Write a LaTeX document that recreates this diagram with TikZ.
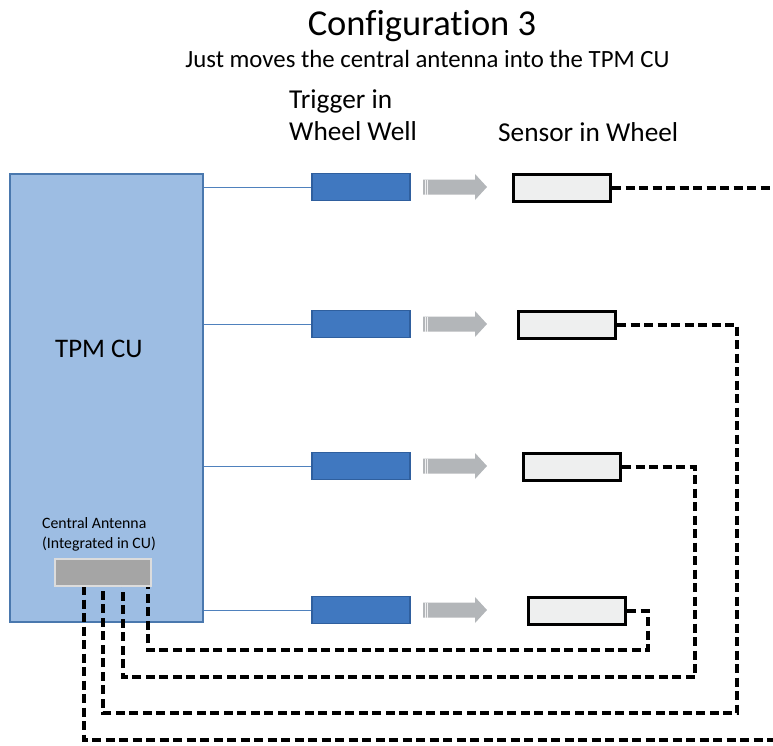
\documentclass[tikz,border=0pt]{standalone}
\usepackage{fontspec}
\setmainfont[Ligatures=NoCommon]{Carlito}
\usetikzlibrary{positioning}
\definecolor{cufill}{HTML}{9DBDE3}
\definecolor{cuedge}{HTML}{4A78AE}
\definecolor{trigfill}{HTML}{4078C0}
\definecolor{trigedge}{HTML}{2F5F9E}
\definecolor{linkblue}{HTML}{4F81BD}
\definecolor{arrowgray}{HTML}{B3B6B9}
\definecolor{sensfill}{HTML}{EEEFEF}
\definecolor{antfill}{HTML}{A5A5A5}
\definecolor{antedge}{HTML}{DCDCDC}
\begin{document}
\begin{tikzpicture}[x=1pt,y=-1pt,
  cubox/.style={draw=cuedge,fill=cufill,line width=2.4pt,inner sep=0pt,
    minimum width=193pt,minimum height=448pt},
  trigbox/.style={draw=trigedge,fill=trigfill,line width=1.5pt,inner sep=0pt,
    minimum width=98pt,minimum height=27pt},
  sensbox/.style={draw=black,fill=sensfill,line width=3pt,inner sep=0pt,
    minimum width=97pt,minimum height=27pt},
  antbox/.style={draw=antedge,fill=antfill,line width=2pt,inner sep=0pt,
    minimum width=96pt,minimum height=27pt},
  link/.style={draw=linkblue,line width=0.9pt},
  loopline/.style={draw=black,line width=3.2pt,dash pattern=on 9pt off 4.5pt},
  txt/.style={inner sep=0pt,anchor=base west}]
\useasboundingbox (0,0) rectangle (773,745);
% titles
\node[inner sep=0pt,anchor=base,font=\fontsize{36.5}{36.5}\selectfont] (title) at (422,35) {Configuration 3};
\node[inner sep=0pt,anchor=base,font=\fontsize{24.8}{24.8}\selectfont] (sub) at (427.5,67) {Just moves the central antenna into the TPM CU};
\node[txt,font=\fontsize{27.3}{27.3}\selectfont] (trig) at (289,108) {Trigger in};
\node[txt,font=\fontsize{27.3}{27.3}\selectfont] (well) at (289,140) {Wheel Well};
\node[txt,font=\fontsize{27.3}{27.3}\selectfont] (sens) at (498,141) {Sensor in Wheel};
% control unit
\node[cubox] (cu) at (106.5,398) {};
\node[txt,font=\fontsize{26.8}{26.8}\selectfont] (cutext) at (55,357) {TPM CU};
\node[txt,font=\fontsize{15.8}{15.8}\selectfont] (anttext) at (42,528) {Central Antenna};
\node[txt,font=\fontsize{15.8}{15.8}\selectfont] (anttext2) at (42,548) {(Integrated in CU)};
% rows: trigger, arrow, sensor
\foreach \i/\y/\sx in {1/187/562,2/324/567,3/466/572,4/610/577}{
  \node[trigbox] (t\i) at (361,\y) {};
  \draw[link] (cu.east |- t\i) -- (t\i);
  \fill[arrowgray] (423,\y-7.5) -- (475,\y-7.5) -- (475,\y-13) -- (487,\y)
    -- (475,\y+13) -- (475,\y+7.5) -- (423,\y+7.5) -- cycle;
  \draw[white!80!arrowgray,line width=0.7pt] (425,\y-7.5) -- (425,\y+7.5)
    (427.5,\y-7.5) -- (427.5,\y+7.5);
  \node[sensbox] (s\i) at (\sx,\y+1) {};}
% antenna ports and loop corners
\coordinate (a1) at (84,586);
\coordinate (a2) at (103,586);
\coordinate (a3) at (123,586);
\coordinate (a4) at (148,586);
\coordinate (c2) at (737,713);
\coordinate (c3) at (695,677);
\coordinate (c4) at (648,650);
\coordinate (e1) at (773,188);
\coordinate (e0) at (773,740);
\draw[loopline] (s1.east) -- (e1);
\draw[loopline] (a1) |- (e0);
\foreach \i in {2,3,4}{
  \draw[loopline] (s\i.east) -| (c\i) -| (a\i);}
\node[antbox] (ant) at (103,572.5) {};
\end{tikzpicture}
\end{document}
